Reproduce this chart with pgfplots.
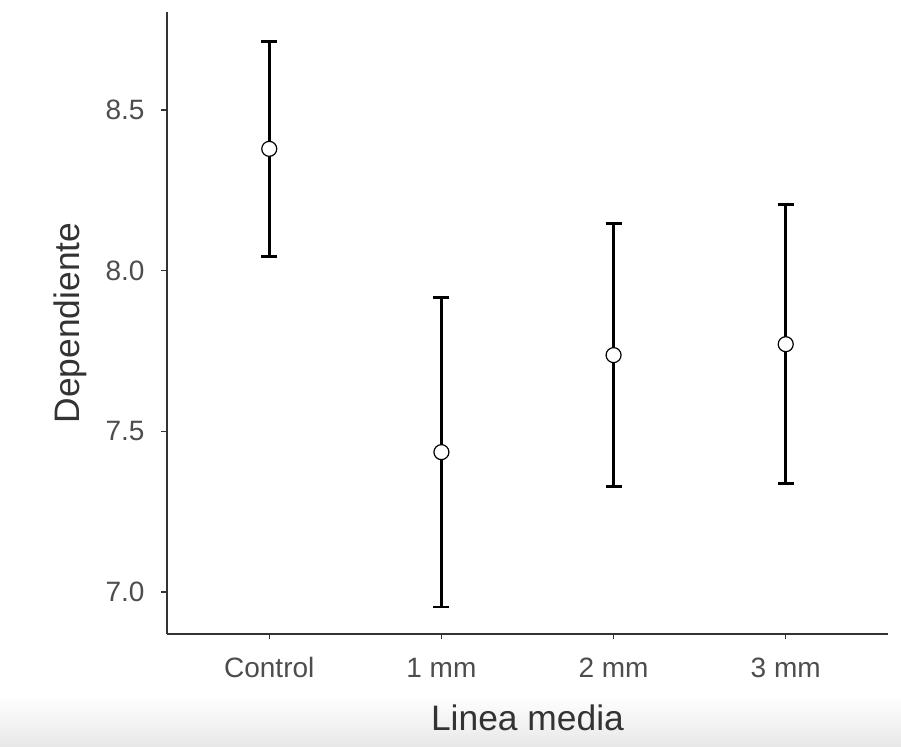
\documentclass[border=0pt]{standalone}
\usepackage{pgfplots}
\pgfplotsset{compat=1.18}
\usepackage{fontspec}
\setmainfont{Liberation Sans}
\definecolor{axgray}{HTML}{333333}
\definecolor{txtgray}{HTML}{4D4D4D}

\begin{document}
\begin{tikzpicture}
% grey band at the foot of the screenshot
\shade[top color=white, bottom color=black!9] (-83.5pt,-56.5pt) rectangle (367pt,-30.5pt);
\begin{axis}[
    at={(0,0)}, anchor=south west,
    scale only axis,
    width=360.5pt, height=311pt,
    xmin=-0.594, xmax=3.594,
    ymin=6.869, ymax=8.805,
    axis x line*=bottom,
    axis y line*=left,
    axis line style={axgray, line width=0.75pt},
    tick style={axgray, line width=0.75pt},
    tick align=outside,
    major tick length=2.75pt,
    xtick={0,1,2,3},
    xticklabels={Control,1 mm,2 mm,3 mm},
    ytick={7.0,7.5,8.0,8.5},
    /pgf/number format/assume math mode=true,
    ticklabel style={font=\fontsize{14}{16}\selectfont, text=txtgray},
    xticklabel style={text height=10pt, text depth=0pt, yshift=-5.5pt},
    yticklabel style={xshift=-5pt, /pgf/number format/.cd, fixed, fixed zerofill, precision=1},
    xlabel={Linea media},
    ylabel={Dependiente},
    label style={font=\fontsize{17.7}{20}\selectfont, text=axgray},
    xlabel style={at={(axis description cs:0.5,-0.135)}, anchor=center},
    ylabel style={at={(axis description cs:-0.1345,0.5)}, anchor=center},
    clip=false,
]
% means with symmetric errors
\addplot[black, only marks, mark=none,
    error bars/.cd, y dir=both, y explicit,
    error bar style={line width=1.4pt, black},
    error mark options={rotate=90, mark size=4pt, line width=1.4pt, black}]
  coordinates {
    (0,8.379) +- (0,0.334)
    (1,7.435) +- (0,0.482)
    (2,7.737) +- (0,0.409)
    (3,7.771) +- (0,0.434)
  };
\addplot[only marks, mark=*, mark size=3.75pt,
    mark options={fill=white, draw=black, line width=0.6pt}]
  coordinates {
    (0,8.379)
    (1,7.435)
    (2,7.737)
    (3,7.771)
  };
\end{axis}
\pgfresetboundingbox
\useasboundingbox (-83.5pt,-56.5pt) rectangle (367pt,317pt);
\end{tikzpicture}
\end{document}
